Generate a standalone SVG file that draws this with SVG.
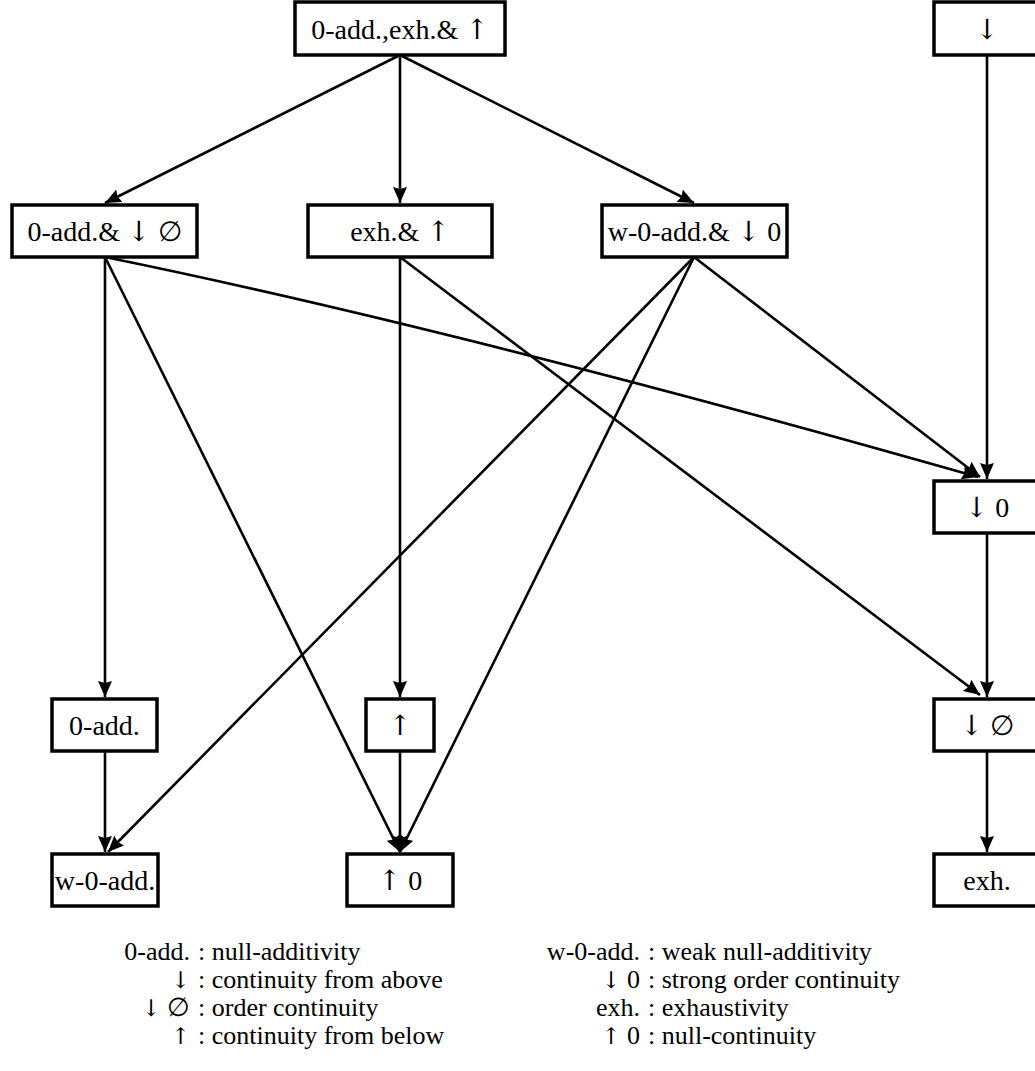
<svg xmlns="http://www.w3.org/2000/svg" width="1035" height="1071" viewBox="0 0 1035 1071">
<style>
  .box { fill: #fff; stroke: #000; stroke-width: 3.5; }
  .lbl { font-family: "Liberation Serif", "DejaVu Serif", serif; font-size: 28px; fill: #000; text-anchor: middle; }
  .edge { fill: none; stroke: #000; stroke-width: 2.6; marker-end: url(#ah); }
  .leg { font-family: "Liberation Serif", "DejaVu Serif", serif; font-size: 26px; fill: #000; }
  .r { text-anchor: end; }
  .ar { font-family: "DejaVu Serif", "DejaVu Sans", serif; font-weight: normal; }
  .sa { font-size: 23px; }
</style>
<defs>
  <marker id="ah" markerUnits="userSpaceOnUse" markerWidth="18" markerHeight="16" refX="16" refY="7" orient="auto" viewBox="0 0 18 16">
    <path d="M0,0 L16,7 L0,14 L2,7 z" fill="#000"/>
  </marker>
</defs>
<rect width="1035" height="1071" fill="#fff"/>
<g id="connectors">
  <path class="edge" d="M400,55 L105,203"/>
  <path class="edge" d="M400,55 L400,203"/>
  <path class="edge" d="M400,55 L694,203"/>
  <path class="edge" d="M987,55 L987,479"/>
  <path class="edge" d="M105,257 L105,697"/>
  <path class="edge" d="M105,257 L400,852"/>
  <path class="edge" d="M105,257 Q462,330 978,477"/>
  <path class="edge" d="M400,257 L400,697"/>
  <path class="edge" d="M400,257 L980,695"/>
  <path class="edge" d="M694,257 L980,477"/>
  <path class="edge" d="M694,257 L108,852"/>
  <path class="edge" d="M694,257 L400,852"/>
  <path class="edge" d="M105,751 L105,852"/>
  <path class="edge" d="M400,751 L400,852"/>
  <path class="edge" d="M987,533 L987,697"/>
  <path class="edge" d="M987,751 L987,852"/>
</g>
<g id="n_top"><rect class="box" x="295" y="2" width="210" height="53"/><text class="lbl" x="400" y="39">0-add.,exh.&amp; <tspan class="ar">↑</tspan></text></g>
<g id="n_down"><rect class="box" x="934" y="2" width="110" height="53"/><text class="lbl" x="987" y="39"><tspan class="ar">↓</tspan></text></g>
<g id="n_0add_oc"><rect class="box" x="12" y="205" width="185" height="52"/><text class="lbl" x="104.5" y="241">0-add.&amp; <tspan class="ar">↓</tspan> ∅</text></g>
<g id="n_exh_up"><rect class="box" x="308" y="205" width="184" height="52"/><text class="lbl" x="400" y="241">exh.&amp; <tspan class="ar">↑</tspan></text></g>
<g id="n_w0add_d0"><rect class="box" x="602" y="205" width="185" height="52"/><text class="lbl" x="694.5" y="241">w-0-add.&amp; <tspan class="ar">↓</tspan> 0</text></g>
<g id="n_down0"><rect class="box" x="934" y="481" width="110" height="52"/><text class="lbl" x="987" y="517"><tspan class="ar">↓</tspan> 0</text></g>
<g id="n_0add"><rect class="box" x="52" y="699" width="105" height="52"/><text class="lbl" x="104.5" y="735">0-add.</text></g>
<g id="n_up"><rect class="box" x="366" y="699" width="68" height="52"/><text class="lbl" x="400" y="735"><tspan class="ar">↑</tspan></text></g>
<g id="n_downempty"><rect class="box" x="934" y="699" width="110" height="52"/><text class="lbl" x="987" y="735"><tspan class="ar">↓</tspan> ∅</text></g>
<g id="n_w0add"><rect class="box" x="52" y="854" width="106" height="52"/><text class="lbl" x="105" y="890">w-0-add.</text></g>
<g id="n_up0"><rect class="box" x="347" y="854" width="106" height="52"/><text class="lbl" x="400" y="890"><tspan class="ar">↑</tspan> 0</text></g>
<g id="n_exh"><rect class="box" x="934" y="854" width="110" height="52"/><text class="lbl" x="987" y="890">exh.</text></g>
<g id="legend">
  <text class="leg r" x="190" y="960">0-add.</text><text class="leg" x="198" y="960">: null-additivity</text>
  <text class="leg r" x="190" y="988"><tspan class="ar sa">↓</tspan></text><text class="leg" x="198" y="988">: continuity from above</text>
  <text class="leg r" x="190" y="1016"><tspan class="ar sa">↓</tspan> ∅</text><text class="leg" x="198" y="1016">: order continuity</text>
  <text class="leg r" x="190" y="1044"><tspan class="ar sa">↑</tspan></text><text class="leg" x="198" y="1044">: continuity from below</text>
  <text class="leg r" x="640" y="960">w-0-add.</text><text class="leg" x="648" y="960">: weak null-additivity</text>
  <text class="leg r" x="640" y="988"><tspan class="ar sa">↓</tspan> 0</text><text class="leg" x="648" y="988">: strong order continuity</text>
  <text class="leg r" x="640" y="1016">exh.</text><text class="leg" x="648" y="1016">: exhaustivity</text>
  <text class="leg r" x="640" y="1044"><tspan class="ar sa">↑</tspan> 0</text><text class="leg" x="648" y="1044">: null-continuity</text>
</g>
</svg>
